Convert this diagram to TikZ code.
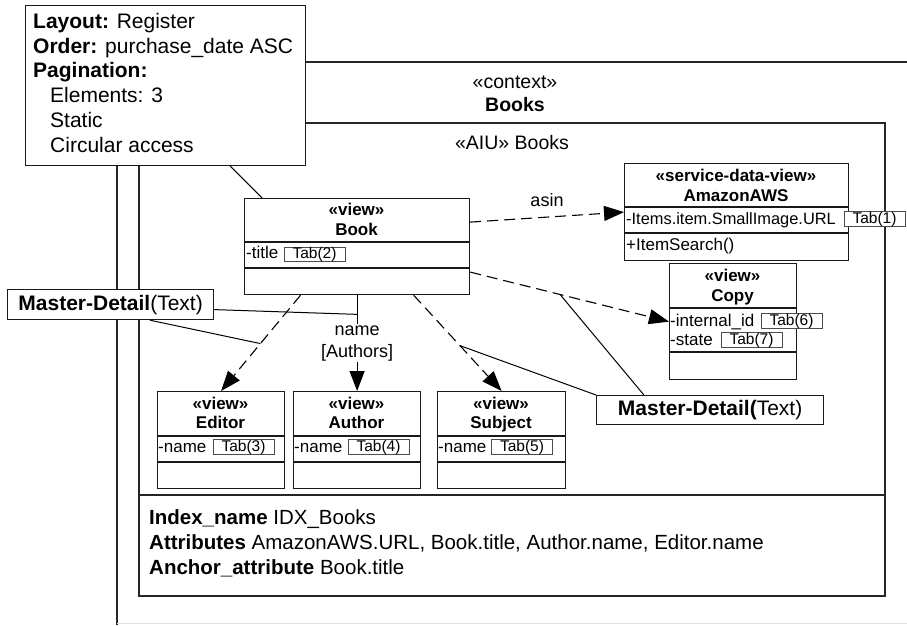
\documentclass[tikz,border=0pt]{standalone}
\usepackage{fontspec}
\setmainfont{Liberation Sans}
\usetikzlibrary{arrows.meta,calc}

\tikzset{
  frameline/.style={line width=1.2pt, draw=black!85},
  faintline/.style={line width=1pt, draw=black!12},
  classbox/.style={draw=black!90, line width=1.2pt, fill=white, rectangle, inner sep=0pt, anchor=north west},
  sepline/.style={line width=1.2pt, draw=black!90},
  hdtext/.style={font=\fontsize{17}{19}\selectfont\bfseries, anchor=base, inner sep=0pt},
  attr/.style={font=\fontsize{17}{19}\selectfont, anchor=base west, inner sep=0pt},
  tabbox/.style={draw=black!70, line width=0.7pt, fill=white, inner sep=0pt,
    minimum width=61pt, minimum height=14pt, font=\fontsize{15.5}{14}\selectfont},
  bigtext/.style={font=\fontsize{21}{25}\selectfont, anchor=base west, inner sep=0pt},
  titletext/.style={font=\fontsize{19.5}{23}\selectfont, inner sep=0pt},
  lbltext/.style={font=\fontsize{18}{22}\selectfont, inner sep=1pt},
  mdbox/.style={draw=black!90, line width=1.2pt, fill=white, rectangle, inner sep=0pt,
    anchor=north west, font=\fontsize{21}{25}\selectfont},
  dep/.style={line width=1.1pt, dash pattern=on 11pt off 6pt,
    -{Triangle[length=20pt,width=15pt]}},
  nav/.style={line width=1.1pt, -{Triangle[length=20pt,width=15pt]}},
  link/.style={line width=1pt},
}

\begin{document}
\begin{tikzpicture}[x=1pt,y=-1pt]
\useasboundingbox (0,0) rectangle (907,625);

% context frame
\draw[frameline] (907,62) -- (117,62) -- (117,625);
\draw[faintline] (117,623) -- (907,623);
\node[titletext] (ctx-st) at (515,82) {«context»};
\node[titletext, font=\fontsize{19.5}{23}\selectfont\bfseries] (ctx-nm) at (515,105) {Books};

% AIU frame with its index compartment
\draw[frameline] (139,123) rectangle (885,596);
\draw[frameline] (139,495) -- (885,495);
\node[titletext] (aiu) at (512,143) {«AIU» Books};

\node[bigtext, font=\fontsize{20.5}{25}\selectfont] (idx1) at (149,524) {\textbf{Index\_name} IDX\_Books};
\node[bigtext, font=\fontsize{20.5}{25}\selectfont] (idx2) at (149,549) {\textbf{Attributes} AmazonAWS.URL, Book.title, Author.name, Editor.name};
\node[bigtext, font=\fontsize{20.5}{25}\selectfont] (idx3) at (149,574) {\textbf{Anchor\_attribute} Book.title};

% class boxes
\node[classbox, minimum width=225pt, minimum height=96pt] (book) at (244,198) {};
\node[classbox, minimum width=224pt, minimum height=97pt] (amazon) at (624,163) {};
\node[classbox, minimum width=127pt, minimum height=116pt] (copy) at (669,263) {};
\node[classbox, minimum width=127pt, minimum height=97pt] (editor) at (157,391) {};
\node[classbox, minimum width=127pt, minimum height=97pt] (author) at (293,391) {};
\node[classbox, minimum width=128pt, minimum height=97pt] (subject) at (437,391) {};

% connectors
\draw[dep] ([yshift=24.5pt]book.east) -- (amazon.west);
\node[lbltext] (asin) at (547,200) {asin};
\draw[dep] ([yshift=-25.5pt]book.east) -- coordinate[pos=0.452] (cp-j) (copy.west);
\draw[dep] ($(book.south west)!0.25!(book.south east)$) -- coordinate[pos=0.505] (ed-j) (editor.north);
\draw[nav] (book.south) -- coordinate[pos=0.2] (au-j)
  node[lbltext, fill=white, align=center, pos=0.5] (au-lbl) {name\\{[Authors]}} (author.north);
\draw[dep] ($(book.south west)!0.75!(book.south east)$) -- coordinate[pos=0.526] (sb-j) (subject.north);

% Book
\draw[sepline] (244,242) -- (469,242);
\draw[sepline] (244,268) -- (469,268);
\node[hdtext] (book-st) at (356.5,215) {«view»};
\node[hdtext] (book-nm) at (356.5,235) {Book};
\node[attr] (book-a1) at (246,258) {-title};
\node[tabbox] (tab2) at (314.5,254.5) {Tab(2)};

% AmazonAWS
\draw[sepline] (624,207) -- (848,207);
\draw[sepline] (624,233) -- (848,233);
\node[hdtext] (amazon-st) at (736,181) {«service-data-view»};
\node[hdtext] (amazon-nm) at (736,201) {AmazonAWS};
\node[attr, font=\fontsize{16.4}{19}\selectfont] (amazon-a1) at (626,224) {-Items.item.SmallImage.URL};
\node[attr] (amazon-o1) at (626,250) {+ItemSearch()};
\node[tabbox] (tab1) at (874.5,219) {Tab(1)};

% Copy
\draw[sepline] (669,308) -- (796,308);
\draw[sepline] (669,352) -- (796,352);
\node[hdtext] (copy-st) at (732.5,281) {«view»};
\node[hdtext] (copy-nm) at (732.5,301) {Copy};
\node[attr] (copy-a1) at (670,326) {-internal\_id};
\node[attr] (copy-a2) at (670,345) {-state};
\node[tabbox] (tab6) at (791.5,321) {Tab(6)};
\node[tabbox] (tab7) at (751.5,340) {Tab(7)};

% Editor
\draw[sepline] (157,436) -- (284,436);
\draw[sepline] (157,462) -- (284,462);
\node[hdtext] (editor-st) at (220.5,409) {«view»};
\node[hdtext] (editor-nm) at (220.5,428) {Editor};
\node[attr] (editor-a1) at (158,452) {-name};
\node[tabbox] (tab3) at (243.5,447) {Tab(3)};

% Author
\draw[sepline] (293,436) -- (420,436);
\draw[sepline] (293,462) -- (420,462);
\node[hdtext] (author-st) at (356.5,409) {«view»};
\node[hdtext] (author-nm) at (356.5,428) {Author};
\node[attr] (author-a1) at (294,452) {-name};
\node[tabbox] (tab4) at (378.5,447) {Tab(4)};

% Subject
\draw[sepline] (437,436) -- (565,436);
\draw[sepline] (437,462) -- (565,462);
\node[hdtext] (subject-st) at (501,409) {«view»};
\node[hdtext] (subject-nm) at (501,428) {Subject};
\node[attr] (subject-a1) at (438,452) {-name};
\node[tabbox] (tab5) at (522,447) {Tab(5)};

% Master-Detail annotations
\node[mdbox, minimum width=206pt, minimum height=30pt] (mdl) at (7,289) {\textbf{Master-Detail}(Text)};
\node[mdbox, minimum width=227pt, minimum height=29pt] (mdr) at (596,395) {\textbf{Master-Detail(}Text)};
\draw[link] ([yshift=-5pt]mdl.east) -- (au-j);
\draw[link] ($(mdl.south west)!0.69!(mdl.south east)$) -- (ed-j);
\draw[link] ($(mdr.north west)!0.21!(mdr.north east)$) -- (cp-j);
\draw[link] (mdr.north west) -- (sb-j);

% presentation note
\node[classbox, minimum width=280pt, minimum height=160pt] (layout) at (25,5) {};
\draw[link] ($(layout.south west)!0.73!(layout.south east)$) -- ($(book.north west)!0.08!(book.north east)$);
\node[bigtext] (lay1) at (33,28) {\textbf{Layout:} Register};
\node[bigtext] (lay2) at (33,53) {\textbf{Order:} purchase\_date ASC};
\node[bigtext] (lay3) at (33,77) {\textbf{Pagination:}};
\node[bigtext] (lay4) at (50,102) {Elements: 3};
\node[bigtext] (lay5) at (50,127) {Static};
\node[bigtext] (lay6) at (50,152) {Circular access};
\end{tikzpicture}
\end{document}
